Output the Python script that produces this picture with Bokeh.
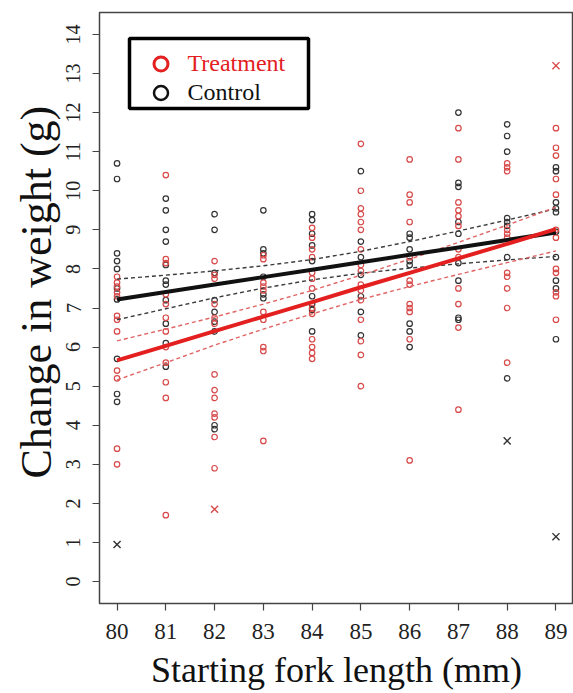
import math
from bokeh.plotting import figure
from bokeh.models import (Range1d, FixedTicker, Legend, LegendItem,
                          BoxAnnotation, Title)
from bokeh.embed import file_html
from bokeh.resources import INLINE

# Starting fork length (mm) for each group of fish
lengths = [80, 81, 82, 83, 84, 85, 86, 87, 88, 89]

# Change in weight (g), treatment fish, one list per starting length
treat_80 = [7.8, 7.65, 7.55, 7.4, 7.3, 6.8, 6.7, 6.4, 5.4, 5.2, 3.4, 3.0]
treat_81 = [10.4, 8.25, 8.15, 7.35, 7.1, 6.75, 6.4, 6.0, 5.6, 5.1, 4.7, 1.7]
treat_82 = [8.2, 7.85, 7.75, 7.1, 6.75, 6.6, 5.3, 4.9, 4.7, 4.3, 4.2, 3.7, 2.9]
treat_83 = [8.35, 8.25, 7.65, 7.55, 7.45, 6.9, 6.7, 6.0, 5.9, 3.6]
treat_84 = [9.05, 8.8, 8.5, 8.3, 7.9, 7.75, 7.5, 7.0, 6.85, 6.2, 6.0, 5.85, 5.7]
treat_85 = [11.2, 10.0, 9.55, 9.4, 9.2, 9.0, 8.5, 8.1, 7.95, 7.6, 7.45, 7.2,
            6.7, 6.15, 5.8, 5.0]
treat_86 = [10.8, 9.9, 9.7, 9.2, 8.3, 7.7, 7.6, 7.1, 7.0, 6.9, 6.2, 3.1]
treat_87 = [11.6, 10.8, 9.7, 9.5, 9.35, 9.1, 8.5, 8.3, 7.5, 7.1, 6.5, 4.4]
treat_88 = [10.7, 10.6, 10.5, 9.0, 8.9, 8.8, 7.9, 7.8, 7.5, 7.0, 5.6]
treat_89 = [11.6, 11.1, 10.9, 10.3, 9.9, 9.0, 8.8, 8.0, 7.9, 7.4, 7.3, 6.7]

# Change in weight (g), control fish
ctrl_80 = [10.7, 10.3, 8.4, 8.2, 8.0, 7.5, 7.22, 5.7, 4.8, 4.6]
ctrl_81 = [9.8, 9.5, 9.0, 8.7, 8.1, 7.7, 7.6, 7.2, 6.6, 6.1, 5.5]
ctrl_82 = [9.4, 9.0, 7.9, 7.2, 6.9, 6.65, 6.4, 4.0, 3.9]
ctrl_83 = [9.5, 8.5, 8.4, 7.8, 7.35, 7.25]
ctrl_84 = [9.4, 9.25, 8.9, 8.6, 8.2, 7.3, 7.1, 6.95, 6.4]
ctrl_85 = [10.5, 8.7, 8.3, 7.85, 7.3, 6.9, 6.3]
ctrl_86 = [8.9, 8.8, 8.5, 8.2, 8.1, 6.6, 6.4, 6.0]
ctrl_87 = [12.0, 10.2, 10.1, 9.2, 8.9, 8.15, 7.7, 6.75, 6.7]
ctrl_88 = [11.7, 11.4, 11.0, 9.3, 9.2, 9.1, 8.3, 5.2]
ctrl_89 = [10.6, 10.5, 9.7, 9.55, 9.45, 8.95, 8.3, 7.7, 7.5, 6.2]

# Outlying fish, drawn as crosses
treat_out_x = [82, 89]
treat_out_y = [1.85, 13.2]
ctrl_out_x = [80, 88, 89]
ctrl_out_y = [0.95, 3.6, 1.15]

# Fitted regression lines and their confidence bands at each length
treat_fit = [5.66, 6.03, 6.41, 6.78, 7.15, 7.53, 7.90, 8.27, 8.64, 9.02]
treat_hi = [6.16, 6.46, 6.77, 7.10, 7.45, 7.84, 8.25, 8.68, 9.12, 9.58]
treat_lo = [5.16, 5.60, 6.05, 6.46, 6.85, 7.22, 7.55, 7.86, 8.16, 8.46]
ctrl_fit = [7.22, 7.41, 7.60, 7.79, 7.98, 8.17, 8.36, 8.55, 8.74, 8.93]
ctrl_hi = [7.74, 7.84, 7.95, 8.08, 8.24, 8.45, 8.70, 8.97, 9.25, 9.54]
ctrl_lo = [6.70, 6.98, 7.26, 7.51, 7.72, 7.89, 8.02, 8.13, 8.23, 8.32]

weight_ticks = list(range(0, 15))

treat_cols = [treat_80, treat_81, treat_82, treat_83, treat_84,
              treat_85, treat_86, treat_87, treat_88, treat_89]
ctrl_cols = [ctrl_80, ctrl_81, ctrl_82, ctrl_83, ctrl_84,
             ctrl_85, ctrl_86, ctrl_87, ctrl_88, ctrl_89]


def flatten(cols):
    xs, ys = [], []
    for x, col in zip(lengths, cols):
        xs += [x] * len(col)
        ys += col
    return xs, ys


treat_x, treat_y = flatten(treat_cols)
ctrl_x, ctrl_y = flatten(ctrl_cols)

RED_PT = "#d84a4a"
BLK_PT = "#333333"
RED_LN = "#e3201f"
BLK_LN = "#111111"
SERIF = "Liberation Serif"


# R-style padding of 4% around the axis limits
def padded(lo, hi):
    d = (hi - lo) * 0.04
    return Range1d(lo - d, hi + d)


p = figure(width=573, height=693, output_backend="svg", toolbar_location=None,
           x_range=padded(80, 89), y_range=padded(0, 14),
           min_border_left=99, min_border_right=0,
           min_border_top=12, min_border_bottom=90)

p.background_fill_color = "white"
p.border_fill_color = "white"
p.xgrid.visible = False
p.ygrid.visible = False
p.outline_line_color = "#444444"
p.outline_line_width = 1.5

p.xaxis.ticker = FixedTicker(ticks=lengths)
p.yaxis.ticker = FixedTicker(ticks=weight_ticks)
for ax in (p.xaxis[0], p.yaxis[0]):
    ax.axis_line_color = None
    ax.major_tick_in = 0
    ax.major_tick_out = 7
    ax.major_tick_line_color = "#444444"
    ax.major_tick_line_width = 1.2
    ax.minor_tick_line_color = None
    ax.major_label_text_font = SERIF
    ax.major_label_text_color = "#222222"
p.xaxis.major_label_text_font_size = "23px"
p.xaxis.major_label_standoff = 13
p.yaxis.major_label_text_font_size = "20px"
p.yaxis.major_label_orientation = "vertical"
p.yaxis.major_label_standoff = 12

# Axis titles
p.xaxis.axis_label = "Starting fork length (mm)"
p.xaxis.axis_label_text_font = SERIF
p.xaxis.axis_label_text_font_size = "36px"
p.xaxis.axis_label_text_font_style = "normal"
p.xaxis.axis_label_text_color = "#111111"
p.xaxis.axis_label_standoff = 8

p.add_layout(Title(text="Change in weight (g)", align="left", offset=125,
                   text_font=SERIF, text_font_size="44px",
                   text_font_style="normal", text_color="#111111",
                   standoff=6), "left")

# Individual fish
p.scatter(ctrl_x, ctrl_y, marker="circle", size=5.5, fill_color=None,
          line_color=BLK_PT, line_width=1.2)
p.scatter(treat_x, treat_y, marker="circle", size=5.5, fill_color=None,
          line_color=RED_PT, line_width=1.2)
p.scatter(ctrl_out_x, ctrl_out_y, marker="x", size=10, line_color=BLK_PT,
          line_width=1.4)
p.scatter(treat_out_x, treat_out_y, marker="x", size=10, line_color=RED_PT,
          line_width=1.4)

# Confidence bands
for band in (ctrl_hi, ctrl_lo):
    p.line(lengths, band, line_color="#3c3c3c", line_width=1.4, line_dash="4 3")
for band in (treat_hi, treat_lo):
    p.line(lengths, band, line_color="#e06464", line_width=1.4, line_dash="4 3")

# Fitted lines
p.line(lengths, ctrl_fit, line_color=BLK_LN, line_width=4)
p.line(lengths, treat_fit, line_color=RED_LN, line_width=4)

# Legend keys: renderers holding a single undefined point, used only for the keys
nan = float("nan")
key_t = p.scatter([nan], [nan], marker="circle", fill_color=None,
                  line_color=RED_LN, line_width=3)
key_c = p.scatter([nan], [nan], marker="circle", fill_color=None,
                  line_color=BLK_LN, line_width=2.5)


def make_key(renderer, label, color, loc):
    leg = Legend(items=[LegendItem(label=label, renderers=[renderer])],
                 location=loc, padding=0, margin=0, spacing=0,
                 glyph_width=35, glyph_height=35, label_standoff=10,
                 label_text_font=SERIF, label_text_font_size="24px",
                 label_text_color=color, border_line_color=None,
                 background_fill_alpha=0)
    p.add_layout(leg, "center")


make_key(key_t, "Treatment", RED_LN, (43.5, 522.5))
make_key(key_c, "Control", "#111111", (43.5, 493.5))

p.add_layout(BoxAnnotation(left=30, right=209, top=565, bottom=495,
                           left_units="screen", right_units="screen",
                           top_units="screen", bottom_units="screen",
                           fill_alpha=0, line_color="black", line_alpha=1,
                           line_width=3.5))

open("out.html", "w").write(file_html(p, INLINE))
